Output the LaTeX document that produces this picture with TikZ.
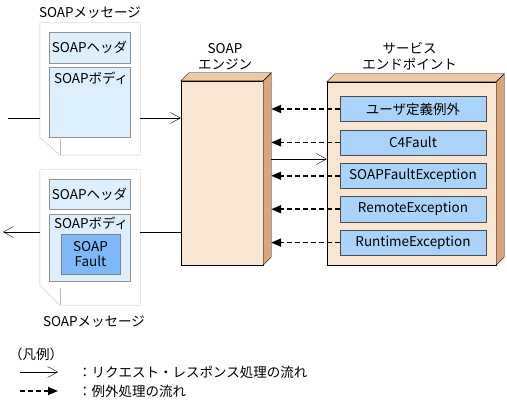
\documentclass[tikz,border=0pt]{standalone}
\usepackage{fontspec}
\setmainfont{Noto Sans CJK JP}
\usetikzlibrary{arrows.meta,chains,positioning,calc}
\definecolor{lcdoc}{HTML}{BEBEBE}
\definecolor{lcpart}{HTML}{DDEEFD}
\definecolor{lcfault}{HTML}{7DB9F6}
\definecolor{lcex}{HTML}{A9D3FB}
\definecolor{lcfront}{HTML}{F8E5D2}
\definecolor{lctop}{HTML}{EDC9A3}
\definecolor{lcside}{HTML}{D8A67A}

\begin{document}
\begin{tikzpicture}[%
    x=1pt, y=-1pt,              % pixel units, y grows downwards
    node distance=8pt,          % gap between the exception boxes
    font=\fontsize{13.5}{15.5}\selectfont]
% -------------------------------------------------
% Box and line styles
\tikzset{
  base/.style={draw, align=center, inner sep=0pt},
  msgdoc/.style={minimum width=100pt, inner sep=0pt},
  part/.style={base, draw=gray!85, fill=lcpart, minimum width=81pt},
  fault/.style={base, draw=gray, fill=lcfault, minimum width=59pt, minimum height=40pt},
  box3d/.style={base, fill=lcfront},
  exbox/.style={base, on chain, draw=black!70, fill=lcex,
    minimum width=146pt, minimum height=25pt},
  % -------------------------------------------------
  % Connector line styles
  flow/.style={-{Straight Barb[length=10pt,width=11pt]}, draw},
  exflow/.style={-{Triangle[length=10pt,width=8pt]}, draw, line width=1.7pt,
    dash pattern=on 5pt off 3pt},
  lbl/.style={inner sep=0pt, align=center}
}
\useasboundingbox (0,0) rectangle (507,412);
% -------------------------------------------------
% The two SOAP messages
\node [msgdoc, minimum height=132pt] (req) at (90,89) {};
\draw [lcdoc, fill=white] (req.north west) -- (req.north east) -- (req.south east)
  -- ($(req.south west)+(20,0)$) -- ($(req.south west)+(0,-18)$) -- cycle;
\draw [lcdoc] ($(req.south west)+(20,0)$) -- ++(0,-16);
\node [part, minimum height=31pt] (reqhdr) at (89.5,47.5) {SOAPヘッダ};
\node [part, minimum height=70pt] (reqbody) at (89.5,102) {};
\node [lbl, anchor=north west] (reqbodyt) at ($(reqbody.north west)+(5,5)$) {SOAPボディ};
\node [lbl, above=4pt of req] (reqlbl) {SOAPメッセージ};

\node [msgdoc, minimum height=135pt] (res) at (90,237.5) {};
\draw [lcdoc, fill=white] (res.north west) -- (res.north east) -- (res.south east)
  -- ($(res.south west)+(20,0)$) -- ($(res.south west)+(0,-20)$) -- cycle;
\draw [lcdoc] ($(res.south west)+(20,0)$) -- ++(0,-17);
\node [part, minimum height=30pt] (reshdr) at (89.5,194) {SOAPヘッダ};
\node [part, minimum height=67pt] (resbody) at (89.5,247.5) {};
\node [lbl, anchor=north west] (resbodyt) at ($(resbody.north west)+(5,3)$) {SOAPボディ};
\node [fault] (fault) at (90.5,254) {SOAP\\Fault};
\node [lbl, below=10pt of res, xshift=4pt] (reslbl) {SOAPメッセージ};

% -------------------------------------------------
% SOAP engine and service endpoint (3D boxes)
\node [box3d, minimum width=82pt, minimum height=184pt] (engine) at (222,173) {};
\draw [fill=lcside] (engine.north east) -- ++(8,-8) -- ($(engine.south east)+(8,-8)$)
  -- (engine.south east) -- cycle;
\draw [fill=lctop] (engine.north west) -- ++(8,-8) -- ($(engine.north east)+(8,-8)$)
  -- (engine.north east) -- cycle;
\node [lbl, above=11pt of engine, xshift=3pt] (englbl) {SOAP\\エンジン};

\node [box3d, minimum width=169pt, minimum height=183pt] (endpt) at (411.5,173.5) {};
\draw [fill=lcside] (endpt.north east) -- ++(8,-8) -- ($(endpt.south east)+(8,-8)$)
  -- (endpt.south east) -- cycle;
\draw [fill=lctop] (endpt.north west) -- ++(8,-8) -- ($(endpt.north east)+(8,-8)$)
  -- (endpt.north east) -- cycle;
\node [lbl, above=12pt of endpt, xshift=-2pt] (eplbl) {サービス\\エンドポイント};

% exception boxes, stacked with a chain
\begin{scope}[start chain=going below]
\node [exbox] (e1) at (413,109) {ユーザ定義例外};
\node [exbox] (e2) {C4Fault};
\node [exbox] (e3) {SOAPFaultException};
\node [exbox] (e4) {RemoteException};
\node [exbox] (e5) {RuntimeException};
\end{scope}

% -------------------------------------------------
% Connectors
\coordinate (engside) at ($(engine.east)+(8,0)$);
\foreach \i in {1,...,5}
  \draw [exflow] (e\i.west) -- (e\i.west -| engside);

\coordinate (reqy) at (0,159);
\draw [flow] (reqy -| engside) -- (reqy -| endpt.west);

\coordinate (in) at (8,118);
\draw (in) -- (in -| req.west);
\draw [flow] (in -| req.east) -- (in -| engine.west);

\coordinate (out) at (3,232);
\draw (out -| engine.west) -- (out -| res.east);
\draw [flow] (out -| res.west) -- (out);

% -------------------------------------------------
% Legend
\node [lbl, anchor=west] (legend) at (9,354) {（凡例）};
\coordinate (lgreq) at (20,372);
\coordinate (lgreqe) at (58,372);
\draw [flow] (lgreq) -- (lgreqe);
\node [lbl, anchor=west] (lgreqt) at (78,372) {：リクエスト・レスポンス処理の流れ};
\coordinate (lgexc) at (20,391);
\coordinate (lgexce) at (58,391);
\draw [exflow] (lgexc) -- (lgexce);
\node [lbl, anchor=west] (lgexct) at (78,391) {：例外処理の流れ};
\end{tikzpicture}
\end{document}
